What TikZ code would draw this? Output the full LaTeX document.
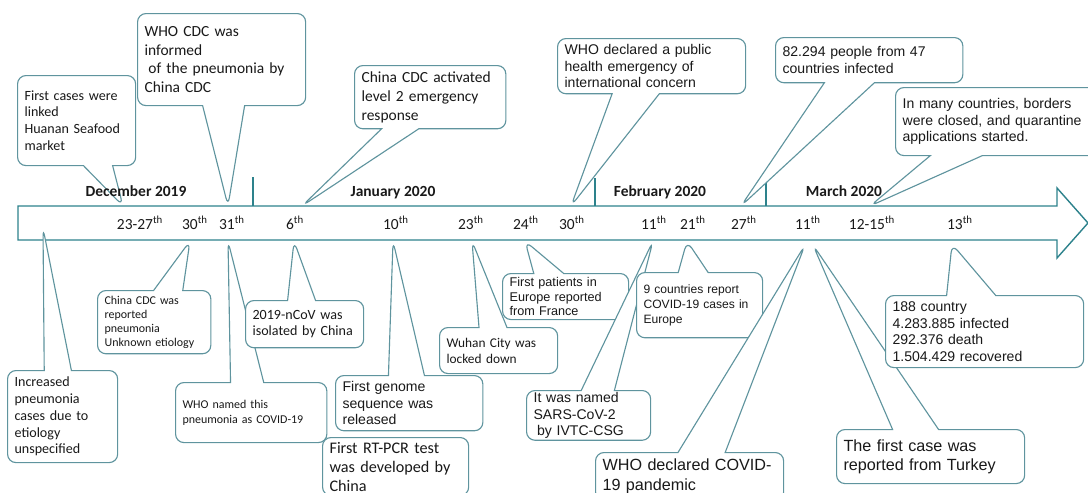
\documentclass[tikz,border=0pt]{standalone}
\usepackage{fontspec}
\setmainfont{Carlito}
\newfontfamily\arialf{Liberation Sans}
\usetikzlibrary{shapes.callouts}
\definecolor{linec}{RGB}{45,130,140}
\definecolor{boxc}{RGB}{95,148,158}
\definecolor{txtc}{RGB}{25,25,25}
\tikzset{
  tlbox/.style={draw=boxc, line width=0.8pt, fill=white, rounded corners=6pt,
    anchor=north west, align=left, inner xsep=5pt, inner ysep=2pt, text=txtc},
  note/.style={tlbox, rectangle callout, callout pointer width=0.8cm},
  datelbl/.style={anchor=base, text=txtc, font=\fontsize{11}{13}\selectfont},
  month/.style={anchor=base, text=txtc, font=\fontsize{11}{13}\selectfont\bfseries},
  sep/.style={draw=linec, line width=1.4pt}
}
\begin{document}
\begin{tikzpicture}[x=0.025cm, y=-0.025cm]
  \useasboundingbox (0,0) rectangle (1088,493);
  \draw[draw=linec, line width=1pt, fill=white]
    (18,206) -- (1057,206) -- (1057,188) -- (1088,223) -- (1057,258)
    -- (1057,240) -- (18,240) -- cycle;
  \draw[sep] (253,177) -- (253,206);
  \draw[sep] (595,178) -- (595,206);
  \draw[sep] (766,179) -- (766,206);

  \node[datelbl] (t2327) at (140,229) {23-27\textsuperscript{th}};
  \node[datelbl] (t30d) at (195,229) {30\textsuperscript{th}};
  \node[datelbl] (t31) at (232,229) {31\textsuperscript{th}};
  \node[datelbl] (t6) at (295,229) {6\textsuperscript{th}};
  \node[datelbl] (t10) at (396,229) {10\textsuperscript{th}};
  \node[datelbl] (t23) at (471,229) {23\textsuperscript{th}};
  \node[datelbl] (t24) at (526,229) {24\textsuperscript{th}};
  \node[datelbl] (t30j) at (572,229) {30\textsuperscript{th}};
  \node[datelbl] (t11f) at (654,229) {11\textsuperscript{th}};
  \node[datelbl] (t21) at (693,229) {21\textsuperscript{th}};
  \node[datelbl] (t27) at (744,229) {27\textsuperscript{th}};
  \node[datelbl] (t11m) at (808,229) {11\textsuperscript{th}};
  \node[datelbl] (t1215) at (872,229) {12-15\textsuperscript{th}};
  \node[datelbl] (t13) at (960,229) {13\textsuperscript{th}};

  \coordinate (p2327) at (123,206);
  \coordinate (p31a) at (228,206);
  \coordinate (p6a) at (302,206);
  \coordinate (p30a) at (571,206);
  \coordinate (p27a) at (741,206);
  \coordinate (p1215a) at (870,206);
  \coordinate (pstart) at (43,228);
  \coordinate (p30b) at (190,241);
  \coordinate (p31b) at (228,241);
  \coordinate (p6b) at (294,241);
  \coordinate (p10b) at (393,241);
  \coordinate (p23b) at (472,241);
  \coordinate (p24b) at (525,241);
  \coordinate (p11fb) at (653,241);
  \coordinate (p21b) at (687,241);
  \coordinate (p11ma) at (805,245);
  \coordinate (p11mb) at (813,245);
  \coordinate (p13b) at (952,244);

  \node[note, callout absolute pointer={(p2327)}, callout pointer width=0.73cm,
    text width=2.6cm, minimum height=2.25cm, font=\fontsize{10}{11.9}\selectfont]
    (seafood) at (17,75) {First cases were\\linked\\Huanan Seafood\\market};
  \node[note, callout absolute pointer={(p31a)}, callout pointer width=1.05cm,
    text width=3.85cm, minimum height=2.3cm, font=\fontsize{11}{13.2}\selectfont]
    (informed) at (137,13) {WHO CDC was\\informed\\\hspace*{.25em}of the pneumonia by\\China CDC};
  \node[note, callout absolute pointer={(p6a)}, callout pointer width=0.93cm,
    text width=3.43cm, minimum height=1.58cm, font=\fontsize{11}{13.5}\selectfont]
    (level2) at (354,65) {China CDC activated\\level 2 emergency\\response};
  \node[note, callout absolute pointer={(p30a)}, callout pointer width=1.18cm,
    text width=4.35cm, minimum height=1.38cm, font=\arialf\fontsize{10}{11.6}\selectfont]
    (emergency) at (557,38) {WHO declared a public\\health emergency of\\international concern};
  \node[note, callout absolute pointer={(p27a)}, callout pointer width=1.25cm,
    text width=4.33cm, minimum height=1.13cm, font=\arialf\fontsize{10}{11.9}\selectfont]
    (infected) at (775,37) {82.294 people from 47\\countries infected};
  \node[note, callout absolute pointer={(p1215a)}, callout pointer width=1.3cm,
    text width=5.6cm, minimum height=1.7cm, font=\arialf\fontsize{10}{11.9}\selectfont]
    (borders) at (895,87) {In many countries, borders\\were closed, and quarantine\\applications started.};

  \node[note, callout absolute pointer={(pstart)}, callout pointer width=0.68cm,
    text width=2.4cm, minimum height=2.3cm, font=\fontsize{10}{11.9}\selectfont]
    (increased) at (7,370) {Increased\\pneumonia\\cases due to\\etiology\\unspecified};
  \node[note, callout absolute pointer={(p30b)}, callout pointer width=0.73cm,
    text width=2.48cm, minimum height=1.58cm, font=\fontsize{8.5}{10}\selectfont]
    (unknown) at (97,290) {China CDC was\\reported\\pneumonia\\Unknown etiology};
  \node[note, callout absolute pointer={(p31b)}, callout pointer width=0.83cm,
    text width=3.43cm, minimum height=1.5cm, font=\fontsize{8.5}{10.7}\selectfont]
    (named) at (175,382) {WHO named this\\pneumonia as COVID-19};
  \node[note, callout absolute pointer={(p6b)}, callout pointer width=0.7cm,
    text width=2.6cm, minimum height=1.18cm, font=\fontsize{10}{11.9}\selectfont]
    (isolated) at (245,300) {2019-nCoV was\\isolated by China};
  \node[tlbox, text width=3.3cm, minimum height=1.45cm, font=\fontsize{11.5}{13.5}\selectfont]
    (rtpcr) at (322,437) {First RT-PCR test\\was developed by\\China};
  \node[note, callout absolute pointer={(p10b)}, callout pointer width=0.9cm,
    text width=3.33cm, minimum height=1.38cm, font=\arialf\fontsize{10}{11.9}\selectfont]
    (genome) at (335,375) {First genome\\sequence was\\released};
  \node[note, callout absolute pointer={(p23b)}, callout pointer width=0.7cm,
    text width=2.6cm, minimum height=1.15cm, font=\fontsize{9.5}{11.2}\selectfont]
    (wuhan) at (439,327) {Wuhan City was\\locked down};
  \node[note, callout absolute pointer={(p24b)}, callout pointer width=0.75cm,
    text width=2.8cm, minimum height=1.15cm, font=\arialf\fontsize{9}{10.6}\selectfont]
    (france) at (502,273) {First patients in\\Europe reported\\from France};
  \node[note, callout absolute pointer={(p11fb)}, callout pointer width=0.83cm,
    text width=2.75cm, minimum height=1.18cm, inner ysep=1pt, font=\arialf\fontsize{10}{12}\selectfont]
    (sars) at (526,390) {It was named\\SARS-CoV-2\\\hspace*{.25em}by IVTC-CSG};
  \node[note, callout absolute pointer={(p21b)}, callout pointer width=0.75cm,
    text width=2.8cm, minimum height=1.63cm, font=\arialf\fontsize{8.6}{10.5}\selectfont]
    (europe) at (636,272) {9 countries report\\COVID-19 cases in\\Europe};
  \node[note, callout absolute pointer={(p11ma)}, callout pointer width=1.18cm,
    text width=4.35cm, minimum height=1.2cm, font=\arialf\fontsize{11.5}{13.9}\selectfont]
    (pandemic) at (595,452) {WHO declared COVID-\\19 pandemic};
  \node[note, callout absolute pointer={(p11mb)}, callout pointer width=1.15cm,
    text width=4.35cm, minimum height=1.35cm, font=\arialf\fontsize{11.5}{13.7}\selectfont]
    (turkey) at (836,429) {The first case was\\reported from Turkey};
  \node[note, callout absolute pointer={(p13b)}, callout pointer width=1.23cm,
    text width=4.6cm, minimum height=1.8cm, font=\arialf\fontsize{10}{11.9}\selectfont]
    (world) at (885,295) {188 country\\4.283.885 infected\\292.376 death\\1.504.429 recovered};

  \node[month] (dec) at (136,196) {December 2019};
  \node[month] (jan) at (393,196) {January 2020};
  \node[month] (feb) at (660,196) {February 2020};
  \node[month] (mar) at (844,196) {March 2020};
\end{tikzpicture}
\end{document}
